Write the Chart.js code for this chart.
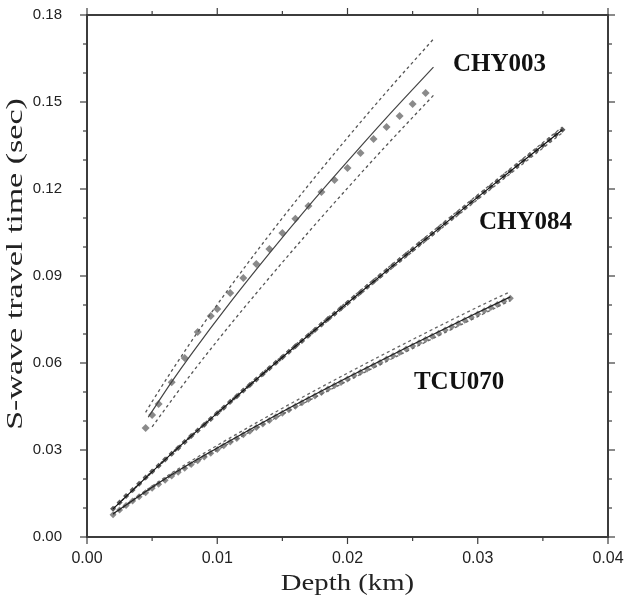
<!DOCTYPE html>
<html>
<head>
<meta charset="utf-8">
<script src="https://cdn.jsdelivr.net/npm/chart.js@4.4.1/dist/chart.umd.min.js"></script>
<style>
  html, body { margin: 0; padding: 0; background: #fff; }
  canvas { display: block; }
</style>
</head>
<body>
<canvas id="travelChart" width="624" height="603"></canvas>
<script>
// DATA (depth in km, S-wave travel time in sec)

// CHY003 observed points
const depthCHY003 = [0.0045, 0.0050, 0.0055, 0.0065, 0.0075, 0.0085, 0.0095, 0.0100, 0.0110, 0.0120, 0.0130, 0.0140,
  0.0150, 0.0160, 0.0170, 0.0180, 0.0190, 0.0200, 0.0210, 0.0220, 0.0230, 0.0240, 0.0250, 0.0260];
const timeCHY003 = [0.0376, 0.0421, 0.0459, 0.0534, 0.0617, 0.0707, 0.0762, 0.0786, 0.0841, 0.0893, 0.0941, 0.0993,
  0.1048, 0.1097, 0.1141, 0.1190, 0.1231, 0.1272, 0.1324, 0.1372, 0.1414, 0.1452, 0.1493, 0.1531];
// CHY003 fit and bounds
const fitDepthCHY003 = [0.0047, 0.0065, 0.0080, 0.0110, 0.0140, 0.0170, 0.0200, 0.0230, 0.0266];
const fitTimeCHY003 = [0.0413, 0.0535, 0.0630, 0.0809, 0.0978, 0.1140, 0.1295, 0.1446, 0.1620];
const upDepthCHY003 = [0.0045, 0.0050, 0.0080, 0.0110, 0.0140, 0.0170, 0.0200, 0.0230, 0.0266];
const upTimeCHY003 = [0.0430, 0.0467, 0.0674, 0.0863, 0.1042, 0.1213, 0.1377, 0.1535, 0.1717];
const lowDepthCHY003 = [0.0050, 0.0080, 0.0110, 0.0140, 0.0170, 0.0200, 0.0230, 0.0266];
const lowTimeCHY003 = [0.0380, 0.0562, 0.0732, 0.0894, 0.1051, 0.1203, 0.1351, 0.1523];

// CHY084 observed points
const depthCHY084 = [0.0020, 0.0025, 0.0030, 0.0035, 0.0040, 0.0045, 0.0050, 0.0055, 0.0060, 0.0065,
  0.0070, 0.0075, 0.0080, 0.0085, 0.0090, 0.0095, 0.0100, 0.0105, 0.0110, 0.0115,
  0.0120, 0.0125, 0.0130, 0.0135, 0.0140, 0.0145, 0.0150, 0.0155, 0.0160, 0.0165,
  0.0170, 0.0175, 0.0180, 0.0185, 0.0190, 0.0195, 0.0200, 0.0205, 0.0210, 0.0215,
  0.0220, 0.0225, 0.0230, 0.0235, 0.0240, 0.0245, 0.0250, 0.0255, 0.0260, 0.0265,
  0.0270, 0.0275, 0.0280, 0.0285, 0.0290, 0.0295, 0.0300, 0.0305, 0.0310, 0.0315,
  0.0320, 0.0325, 0.0330, 0.0335, 0.0340, 0.0345, 0.0350, 0.0355, 0.0360, 0.0365];
const timeCHY084 = [0.0097, 0.0119, 0.0141, 0.0162, 0.0184, 0.0205, 0.0226, 0.0246, 0.0267, 0.0287,
  0.0307, 0.0328, 0.0348, 0.0367, 0.0387, 0.0407, 0.0427, 0.0446, 0.0466, 0.0485,
  0.0505, 0.0524, 0.0543, 0.0562, 0.0582, 0.0601, 0.0620, 0.0639, 0.0658, 0.0676,
  0.0695, 0.0714, 0.0733, 0.0752, 0.0770, 0.0789, 0.0807, 0.0826, 0.0844, 0.0863,
  0.0881, 0.0900, 0.0918, 0.0937, 0.0955, 0.0973, 0.0991, 0.1010, 0.1028, 0.1046,
  0.1064, 0.1082, 0.1100, 0.1118, 0.1136, 0.1154, 0.1172, 0.1190, 0.1208, 0.1226,
  0.1244, 0.1262, 0.1280, 0.1298, 0.1316, 0.1333, 0.1351, 0.1369, 0.1387, 0.1404];
// CHY084 fit and bounds
const lineDepthCHY084 = [0.0020, 0.0060, 0.0100, 0.0150, 0.0200, 0.0250, 0.0300, 0.0365];
const fitTimeCHY084 = [0.0097, 0.0267, 0.0427, 0.0620, 0.0807, 0.0991, 0.1172, 0.1404];
const upTimeCHY084 = [0.0097, 0.0270, 0.0431, 0.0625, 0.0813, 0.0998, 0.1180, 0.1414];
const lowTimeCHY084 = [0.0097, 0.0264, 0.0423, 0.0615, 0.0801, 0.0984, 0.1164, 0.1394];

// TCU070 observed points
const depthTCU070 = [0.0020, 0.0025, 0.0030, 0.0035, 0.0040, 0.0045, 0.0050, 0.0055, 0.0060, 0.0065,
  0.0070, 0.0075, 0.0080, 0.0085, 0.0090, 0.0095, 0.0100, 0.0105, 0.0110, 0.0115,
  0.0120, 0.0125, 0.0130, 0.0135, 0.0140, 0.0145, 0.0150, 0.0155, 0.0160, 0.0165,
  0.0170, 0.0175, 0.0180, 0.0185, 0.0190, 0.0195, 0.0200, 0.0205, 0.0210, 0.0215,
  0.0220, 0.0225, 0.0230, 0.0235, 0.0240, 0.0245, 0.0250, 0.0255, 0.0260, 0.0265,
  0.0270, 0.0275, 0.0280, 0.0285, 0.0290, 0.0295, 0.0300, 0.0305, 0.0310, 0.0315,
  0.0320, 0.0325];
const timeTCU070 = [0.0077, 0.0093, 0.0109, 0.0124, 0.0139, 0.0153, 0.0168, 0.0182, 0.0196, 0.0210,
  0.0223, 0.0237, 0.0250, 0.0263, 0.0276, 0.0289, 0.0302, 0.0315, 0.0328, 0.0340,
  0.0353, 0.0365, 0.0378, 0.0390, 0.0402, 0.0415, 0.0427, 0.0439, 0.0451, 0.0463,
  0.0475, 0.0486, 0.0498, 0.0510, 0.0522, 0.0533, 0.0545, 0.0557, 0.0568, 0.0579,
  0.0591, 0.0602, 0.0614, 0.0625, 0.0636, 0.0648, 0.0659, 0.0670, 0.0681, 0.0692,
  0.0703, 0.0714, 0.0725, 0.0736, 0.0747, 0.0758, 0.0769, 0.0780, 0.0791, 0.0802,
  0.0813, 0.0823];
// TCU070 fit and bounds
const lineDepthTCU070 = [0.0020, 0.0060, 0.0100, 0.0150, 0.0200, 0.0250, 0.0300, 0.0325];
const fitTimeTCU070 = [0.0080, 0.0201, 0.0307, 0.0432, 0.0550, 0.0664, 0.0774, 0.0828];
const upTimeTCU070 = [0.0080, 0.0206, 0.0316, 0.0444, 0.0565, 0.0681, 0.0793, 0.0846];
const lowTimeTCU070 = [0.0077, 0.0197, 0.0300, 0.0423, 0.0538, 0.0650, 0.0760, 0.0815];

// AXES
const xMajorTicks = [0, 0.01, 0.02, 0.03, 0.04];
const xMinorTicks = [0.005, 0.015, 0.025, 0.035];
const yMajorTicks = [0, 0.03, 0.06, 0.09, 0.12, 0.15, 0.18];
const yMinorTicks = [0.01, 0.02, 0.04, 0.05, 0.07, 0.08, 0.10, 0.11, 0.13, 0.14, 0.16, 0.17];
const xTitle = 'Depth (km)';
const yTitle = 'S-wave travel time (sec)';
const stationNames = ['CHY003', 'CHY084', 'TCU070'];
// where each station name sits (data coords: left edge, vertical centre)
const stationLabelAt = [[0.0281, 0.1628], [0.0301, 0.1083], [0.0251, 0.0531]];

const pts = (xs, ys) => xs.map((x, i) => ({ x: x, y: ys[i] }));

function markers(xs, ys, color, r) {
  return { data: pts(xs, ys), showLine: false, pointStyle: 'rectRot', pointRadius: r,
    backgroundColor: color, borderColor: color, borderWidth: 0, order: 2 };
}
function curve(xs, ys, color, dash) {
  return { data: pts(xs, ys), showLine: true, pointRadius: 0, borderColor: color,
    borderWidth: dash ? 1.3 : 1.2, borderDash: dash ? [3, 3] : [], cubicInterpolationMode: 'monotone',
    fill: false, order: 1 };
}

// frame, outward ticks, axis titles and station names
const framePlugin = {
  id: 'frame',
  afterDraw(chart) {
    const ctx = chart.ctx;
    const a = chart.chartArea;
    const x = chart.scales.x, y = chart.scales.y;
    ctx.save();
    ctx.strokeStyle = '#3c3c3c';
    ctx.lineWidth = 2;
    ctx.strokeRect(a.left, a.top, a.right - a.left, a.bottom - a.top);

    ctx.lineWidth = 1.2;
    const seg = (x1, y1, x2, y2) => { ctx.beginPath(); ctx.moveTo(x1, y1); ctx.lineTo(x2, y2); ctx.stroke(); };
    const xt = (v, len) => { const p = x.getPixelForValue(v); seg(p, a.bottom, p, a.bottom + len); seg(p, a.top, p, a.top - len); };
    const yt = (v, len) => { const p = y.getPixelForValue(v); seg(a.left, p, a.left - len, p); seg(a.right, p, a.right + len, p); };
    xMajorTicks.forEach(v => xt(v, 7));
    xMinorTicks.forEach(v => xt(v, 4));
    yMajorTicks.forEach(v => yt(v, 7));
    yMinorTicks.forEach(v => yt(v, 4));

    ctx.fillStyle = '#222';
    ctx.textAlign = 'center';
    ctx.textBaseline = 'middle';
    ctx.save();
    ctx.font = '23px "Liberation Serif"';
    ctx.translate((a.left + a.right) / 2, 584);
    ctx.scale(1.25, 1);
    ctx.fillText(xTitle, 0, 0);
    ctx.restore();

    ctx.save();
    ctx.font = '23px "Liberation Serif"';
    ctx.translate(16, 264);
    ctx.rotate(-Math.PI / 2);
    ctx.scale(1.48, 1);
    ctx.fillText(yTitle, 0, 0);
    ctx.restore();

    ctx.font = 'bold 25px "Liberation Serif"';
    ctx.textAlign = 'left';
    ctx.fillStyle = '#111';
    stationNames.forEach((name, i) => {
      const at = stationLabelAt[i];
      ctx.fillText(name, x.getPixelForValue(at[0]), y.getPixelForValue(at[1]));
    });
    ctx.restore();
  }
};

const tickFont = { family: '"Liberation Sans", Arial, sans-serif', size: 16 };

new Chart(document.getElementById('travelChart'), {
  type: 'scatter',
  data: {
    datasets: [
      markers(depthCHY003, timeCHY003, '#8a8a8a', 4),
      curve(fitDepthCHY003, fitTimeCHY003, '#444', false),
      curve(upDepthCHY003, upTimeCHY003, '#555', true),
      curve(lowDepthCHY003, lowTimeCHY003, '#555', true),

      markers(depthCHY084, timeCHY084, '#5a5a5a', 3),
      curve(lineDepthCHY084, fitTimeCHY084, '#111', false),
      curve(lineDepthCHY084, upTimeCHY084, '#666', true),
      curve(lineDepthCHY084, lowTimeCHY084, '#666', true),

      markers(depthTCU070, timeTCU070, '#8a8a8a', 3.5),
      curve(lineDepthTCU070, fitTimeTCU070, '#222', false),
      curve(lineDepthTCU070, upTimeTCU070, '#666', true),
      curve(lineDepthTCU070, lowTimeTCU070, '#666', true)
    ]
  },
  options: {
    responsive: false,
    animation: false,
    devicePixelRatio: 1,
    layout: { padding: { top: 15, right: 16, left: 0, bottom: 0 } },
    plugins: { legend: { display: false }, tooltip: { enabled: false } },
    scales: {
      x: {
        type: 'linear', position: 'bottom', min: 0, max: 0.04,
        ticks: { stepSize: 0.01, padding: 12, color: '#222', font: tickFont, maxRotation: 0,
          callback: v => Number(v).toFixed(2) },
        grid: { display: false, drawTicks: false },
        border: { display: false },
        afterFit: s => { s.height = 66; s.paddingLeft = 0; s.paddingRight = 0; }
      },
      y: {
        type: 'linear', position: 'left', min: 0, max: 0.18,
        ticks: { stepSize: 0.03, padding: 25, color: '#222', font: { family: tickFont.family, size: 15 },
          callback: v => Number(v).toFixed(2) },
        grid: { display: false, drawTicks: false },
        border: { display: false },
        afterFit: s => { s.width = 87; s.paddingTop = 0; s.paddingBottom = 0; }
      }
    }
  },
  plugins: [framePlugin]
});
</script>
</body>
</html>
